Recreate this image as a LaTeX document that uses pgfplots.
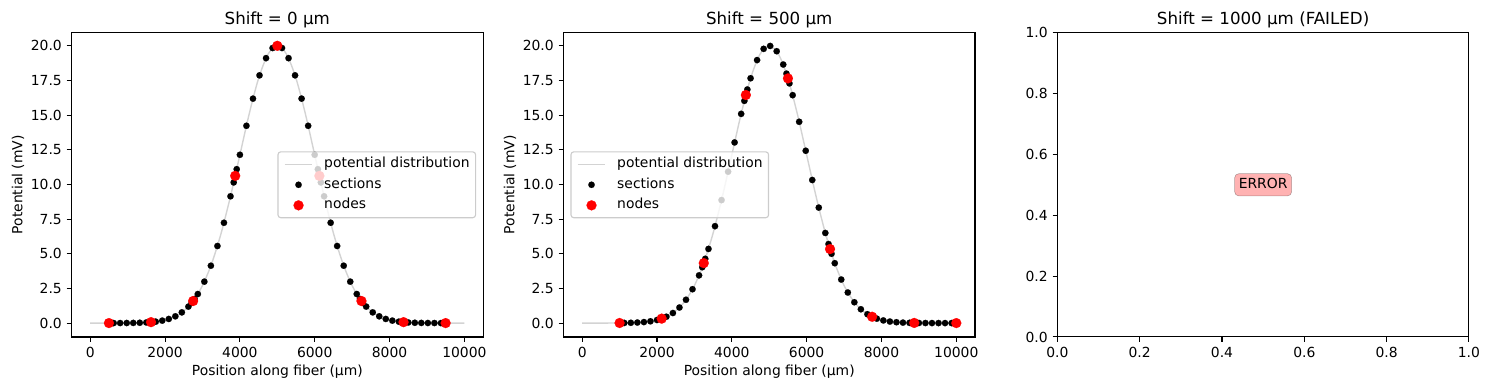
\documentclass[border=0pt]{standalone}
\usepackage{fontspec}
\setmainfont{DejaVu Sans}
\usepackage{pgfplots}
\pgfplotsset{compat=1.18}

\definecolor{lgray}{RGB}{211,211,211}
\definecolor{legframe}{RGB}{204,204,204}

\pgfplotsset{
  mystyle/.style={
    scale only axis, width=296.3pt, height=219.1pt,
    axis line style={line width=0.8pt},
    every tick/.style={black, line width=0.8pt},
    tick align=outside, major tick length=3.5pt, tick pos=left,
    /pgf/number format/assume math mode=true,
    tick label style={font=\fontsize{10}{12}\selectfont},
    label style={font=\fontsize{10}{12}\selectfont},
    title style={font=\fontsize{12}{14}\selectfont, anchor=base},
    every axis x label/.style={at={(axis description cs:0.5,-0.1157)}, anchor=center},
    every axis y label/.style={at={(axis description cs:-0.13,0.5)}, rotate=90, anchor=center},
    scaled ticks=false,
  },
  fibstyle/.style={
    mystyle,
    xmin=-500, xmax=10500, ymin=-1, ymax=20.95,
    xtick={0,2000,4000,6000,8000,10000},
    ytick={0,2.5,5,7.5,10,12.5,15,17.5,20},
    xticklabel style={/pgf/number format/1000 sep={}},
    yticklabel style={/pgf/number format/fixed, /pgf/number format/fixed zerofill, /pgf/number format/precision=1},
    xlabel={Position along fiber (µm)},
    ylabel={Potential (mV)},
    legend cell align=left,
    legend image code/.code={\path[draw=none,fill=none] (0pt,-3pt) rectangle (20pt,3pt); \draw[mark repeat=2,mark phase=2,#1,opacity=1,sharp corners] plot coordinates {(0pt,0pt) (10pt,0pt) (20pt,0pt)};},
    legend style={draw=legframe, line width=0.8pt, rounded corners=2pt, fill=white, fill opacity=0.8, draw opacity=1, text opacity=1,
      inner xsep=4.3pt, inner ysep=1.5pt, column sep=8pt, row sep=0pt,
      nodes={inner xsep=0pt, inner ysep=2.4pt, text height=7.5pt, text depth=2.5pt},
      font=\fontsize{10}{12}\selectfont},
  },
  potline/.style={color=lgray, line width=1pt, smooth, mark=none},
  secmark/.style={only marks, color=black, mark=*, mark size=2.3pt, mark options={fill=black, draw=black, line width=0.1pt}},
  nodemark/.style={only marks, color=red, mark=*, mark size=3.6pt, mark options={fill=red, draw=red, line width=0.1pt}},
}

\begin{document}
\begin{tikzpicture}
\useasboundingbox (0,0) rectangle (1072.08pt,280.8pt);

% ---------------- Panel 1 ----------------
\begin{axis}[fibstyle, at={(51.5pt,38.2pt)}, anchor=south west,
  title={Shift = 0 µm},
  legend style={at={(1,0.5)}, anchor=east, xshift=-5pt}]
\addplot[potline] coordinates {
(0,0.0001) (250,0.0003) (500,0.0008) (750,0.0024) (1000,0.0067) (1250,0.018) (1500,0.044) (1750,0.102)
(2000,0.222) (2250,0.456) (2500,0.879) (2750,1.591) (3000,2.707) (3250,4.326) (3500,6.493) (3750,9.156)
(4000,12.13) (4250,15.10) (4500,17.65) (4750,19.38) (5000,20) (5250,19.38) (5500,17.65) (5750,15.10)
(6000,12.13) (6250,9.156) (6500,6.493) (6750,4.326) (7000,2.707) (7250,1.591) (7500,0.879) (7750,0.456)
(8000,0.222) (8250,0.102) (8500,0.044) (8750,0.018) (9000,0.0067) (9250,0.0024) (9500,0.0008) (9750,0.0003) (10000,0.0001)};
\addlegendentry{potential distribution}
\addplot[secmark] coordinates {
(540,0.001) (626,0.0014) (800,0.003) (975,0.006) (1150,0.012) (1324,0.023) (1499,0.044) (1585,0.059)
(1665,0.077) (1751,0.102) (1925,0.177) (2100,0.298) (2275,0.488) (2449,0.772) (2624,1.189) (2710,1.453)
(2790,1.740) (2876,2.096) (3050,2.989) (3225,4.139) (3400,5.560) (3574,7.236) (3749,9.146) (3835,10.146)
(3915,11.10) (4001,12.14) (4175,14.23) (4350,16.19) (4525,17.87) (4699,19.11) (4874,19.84) (4960,19.98)
(5040,19.98) (5126,19.84) (5301,19.11) (5475,17.87) (5650,16.19) (5825,14.23) (5999,12.14) (6085,11.10)
(6165,10.146) (6251,9.146) (6426,7.236) (6600,5.560) (6775,4.139) (6950,2.989) (7124,2.096) (7210,1.740)
(7290,1.453) (7376,1.189) (7551,0.772) (7725,0.488) (7900,0.298) (8075,0.177) (8249,0.102) (8335,0.077)
(8415,0.059) (8501,0.044) (8676,0.023) (8850,0.012) (9025,0.006) (9200,0.003) (9374,0.0014) (9460,0.001)};
\addlegendentry{sections}
\addplot[nodemark] coordinates {
(500,0.0008) (1625,0.067) (2750,1.591) (3875,10.62) (5000,20) (6125,10.62) (7250,1.591) (8375,0.067) (9500,0.0008)};
\addlegendentry{nodes}
\end{axis}

% ---------------- Panel 2 ----------------
\begin{axis}[fibstyle, at={(405.7pt,38.2pt)}, anchor=south west,
  title={Shift = 500 µm},
  legend style={at={(0,0.5)}, anchor=west, xshift=5pt}]
\addplot[potline] coordinates {
(0,0.0001) (250,0.0003) (500,0.0008) (750,0.0024) (1000,0.0067) (1250,0.018) (1500,0.044) (1750,0.102)
(2000,0.222) (2250,0.456) (2500,0.879) (2750,1.591) (3000,2.707) (3250,4.326) (3500,6.493) (3750,9.156)
(4000,12.13) (4250,15.10) (4500,17.65) (4750,19.38) (5000,20) (5250,19.38) (5500,17.65) (5750,15.10)
(6000,12.13) (6250,9.156) (6500,6.493) (6750,4.326) (7000,2.707) (7250,1.591) (7500,0.879) (7750,0.456)
(8000,0.222) (8250,0.102) (8500,0.044) (8750,0.018) (9000,0.0067) (9250,0.0024) (9500,0.0008) (9750,0.0003) (10000,0.0001)};
\addlegendentry{potential distribution}
\addplot[secmark] coordinates {
(1040,0.0079) (1126,0.011) (1300,0.021) (1475,0.040) (1650,0.073) (1824,0.129) (1999,0.222) (2085,0.286)
(2165,0.360) (2251,0.457) (2425,0.726) (2600,1.123) (2775,1.683) (2949,2.442) (3124,3.442) (3210,4.030)
(3290,4.636) (3376,5.350) (3550,6.990) (3725,8.872) (3900,10.92) (4074,13.03) (4249,15.09) (4335,16.03)
(4415,16.85) (4501,17.66) (4675,18.97) (4850,19.78) (5025,19.99) (5199,19.61) (5374,18.65) (5460,17.99)
(5540,17.29) (5626,16.44) (5800,14.52) (5975,12.43) (6150,10.32) (6324,8.33) (6499,6.50) (6585,5.70)
(6665,5.00) (6751,4.32) (6925,3.14) (7100,2.206) (7275,1.503) (7449,0.997) (7624,0.640) (7710,0.509)
(7790,0.408) (7876,0.320) (8050,0.191) (8225,0.110) (8400,0.062) (8574,0.034) (8749,0.018) (8835,0.013)
(8915,0.0094) (9001,0.0067) (9175,0.0033) (9350,0.0016) (9525,0.0007) (9699,0.0003) (9874,0.0001) (9960,0.0001)};
\addlegendentry{sections}
\addplot[nodemark] coordinates {
(1000,0.0067) (2125,0.321) (3250,4.326) (4375,16.45) (5500,17.65) (6625,5.340) (7750,0.456) (8875,0.011) (10000,0.0001)};
\addlegendentry{nodes}
\end{axis}

% ---------------- Panel 3 ----------------
\begin{axis}[mystyle, at={(761.3pt,38.2pt)}, anchor=south west,
  title={Shift = 1000 µm (FAILED)},
  xmin=0, xmax=1, ymin=0, ymax=1,
  xtick={0,0.2,0.4,0.6,0.8,1}, ytick={0,0.2,0.4,0.6,0.8,1},
  ticklabel style={/pgf/number format/fixed, /pgf/number format/fixed zerofill, /pgf/number format/precision=1}]
\node[fill=red, fill opacity=0.3, draw=black, draw opacity=0.3, text opacity=1, rounded corners=3pt,
  font=\fontsize{10}{12}\selectfont, inner xsep=3pt, inner ysep=3pt, text height=7.9pt, text depth=2.1pt]
  at (axis cs:0.5,0.5) {ERROR};
\end{axis}
\end{tikzpicture}
\end{document}
